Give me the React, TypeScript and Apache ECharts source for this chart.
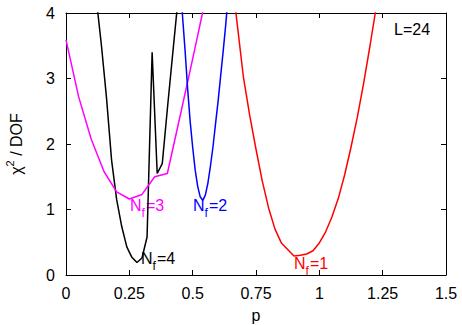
import React, { useEffect, useRef } from "react";
import * as echarts from "echarts";

const xTicks = [0, 0.25, 0.5, 0.75, 1, 1.25, 1.5];
const yTicks = [0, 1, 2, 3, 4];

// N_f = 1 (red)
const nf1P = [0.65, 0.675, 0.7, 0.725, 0.75, 0.775, 0.8, 0.825, 0.85, 0.875, 0.9, 0.925, 0.95, 0.975, 1.0, 1.025, 1.05, 1.075, 1.1, 1.125, 1.15, 1.175, 1.2, 1.225, 1.25];
const nf1Y = [4.7, 3.86, 3.03, 2.44, 1.92, 1.43, 1.02, 0.7, 0.49, 0.39, 0.29, 0.3, 0.32, 0.37, 0.49, 0.66, 0.89, 1.17, 1.53, 1.95, 2.41, 2.93, 3.5, 4.1, 4.75];

// N_f = 2 (blue)
const nf2P = [0.45, 0.46, 0.47, 0.48, 0.49, 0.5, 0.51, 0.52, 0.53, 0.54, 0.55, 0.56, 0.57, 0.58, 0.59, 0.6, 0.61, 0.62, 0.63, 0.64];
const nf2Y = [4.7, 3.95, 3.43, 2.85, 2.35, 1.95, 1.6, 1.35, 1.19, 1.14, 1.22, 1.4, 1.66, 1.95, 2.3, 2.64, 3.02, 3.4, 3.8, 4.25];

// N_f = 3 (magenta)
const nf3P = [0, 0.05, 0.1, 0.15, 0.2, 0.25, 0.3, 0.35, 0.4, 0.45, 0.5, 0.55];
const nf3Y = [3.59, 2.72, 2.07, 1.58, 1.27, 1.16, 1.23, 1.5, 1.55, 2.42, 3.3, 4.2];

// N_f = 4 (black)
const nf4P = [0.12, 0.14, 0.16, 0.18, 0.2, 0.22, 0.24, 0.26, 0.28, 0.3, 0.32, 0.34, 0.36, 0.38, 0.4, 0.42, 0.44];
const nf4Y = [4.2, 3.5, 2.7, 1.75, 1.15, 0.74, 0.43, 0.27, 0.19, 0.26, 0.58, 3.4, 1.55, 1.7, 2.53, 3.33, 4.12];

const zip = (xs: number[], ys: number[]) => xs.map((x, i) => [x, ys[i]]);

const FONT = "Liberation Sans, Arial, sans-serif";

const nfLabel = (n: string, x: number, y: number, color: string) => ({
  type: "text",
  x,
  y,
  style: {
    text: `{n|N}{s|f}{n|=${n}}`,
    fill: color,
    verticalAlign: "middle",
    rich: {
      n: { fontSize: 16, fontFamily: FONT, fill: color, height: 20, verticalAlign: "top", padding: [0, 0, 0, 0] },
      s: { fontSize: 12, fontFamily: FONT, fill: color, height: 20, verticalAlign: "top", padding: [7, 1, 0, 0] },
    },
  },
});

export default function App() {
  const ref = useRef<HTMLDivElement>(null);
  useEffect(() => {
    if (!ref.current) return;
    const chart = echarts.init(ref.current, null, { renderer: "svg" });
    const lineSeries = (data: number[][], color: string) => ({
      type: "line",
      data,
      showSymbol: false,
      symbol: "none",
      clip: true,
      lineStyle: { color, width: 1.5 },
      itemStyle: { color },
    });
    const axisCommon = {
      axisLine: { show: true, onZero: false, lineStyle: { color: "#000", width: 1 } },
      axisTick: { show: true, inside: true, length: 5, lineStyle: { color: "#000" } },
      splitLine: { show: false },
    };
    chart.setOption({
      animation: false,
      backgroundColor: "#fff",
      grid: { left: 66, right: 16, top: 13, bottom: 50, containLabel: false, outerBoundsMode: "none" },
      xAxis: [
        {
          type: "value",
          min: 0,
          max: 1.5,
          interval: 0.25,
          ...axisCommon,
          axisLabel: {
            margin: 10,
            fontSize: 16,
            fontFamily: FONT,
            color: "#000",
            formatter: (v: number) => (xTicks.includes(v) ? String(v) : ""),
          },
          name: "p",
          nameLocation: "middle",
          nameGap: 32,
          nameTextStyle: { fontSize: 16, fontFamily: FONT, color: "#000" },
        },
        {
          type: "value",
          position: "top",
          min: 0,
          max: 1.5,
          interval: 0.25,
          ...axisCommon,
          axisLabel: { show: false },
        },
      ],
      yAxis: [
        {
          type: "value",
          min: 0,
          max: 4,
          interval: 1,
          ...axisCommon,
          axisLabel: {
            margin: 11,
            fontSize: 16,
            fontFamily: FONT,
            color: "#000",
            formatter: (v: number) => (yTicks.includes(v) ? String(v) : ""),
          },
          name: "{a|χ}{s|2}{a| / DOF}",
          nameLocation: "middle",
          nameGap: 40,
          nameRotate: 90,
          nameTextStyle: {
            fontFamily: FONT,
            color: "#000",
            rich: {
              a: { fontSize: 16, fontFamily: FONT, color: "#000", height: 20, verticalAlign: "bottom" },
              s: { fontSize: 11, fontFamily: FONT, color: "#000", height: 20, verticalAlign: "top", padding: [0, 0, 6, 0] },
            },
          },
        },
        {
          type: "value",
          position: "right",
          min: 0,
          max: 4,
          interval: 1,
          ...axisCommon,
          axisLabel: { show: false },
        },
      ],
      series: [
        lineSeries(zip(nf4P, nf4Y), "#000000"),
        lineSeries(zip(nf3P, nf3Y), "#ff00ff"),
        lineSeries(zip(nf2P, nf2Y), "#0000ff"),
        lineSeries(zip(nf1P, nf1Y), "#ff0000"),
      ],
      graphic: [
        nfLabel("3", 130, 209, "#ff00ff"),
        nfLabel("2", 193, 209, "#0000ff"),
        nfLabel("4", 141, 262, "#000000"),
        nfLabel("1", 294, 267, "#ff0000"),
        {
          type: "text",
          x: 394,
          y: 29,
          style: { text: "L=24", fontSize: 16, fontFamily: FONT, fill: "#000", verticalAlign: "middle" },
        },
      ],
    });
    return () => chart.dispose();
  }, []);
  return <div ref={ref} style={{ width: 462, height: 325, position: "absolute", left: 0, top: 0 }} />;
}
